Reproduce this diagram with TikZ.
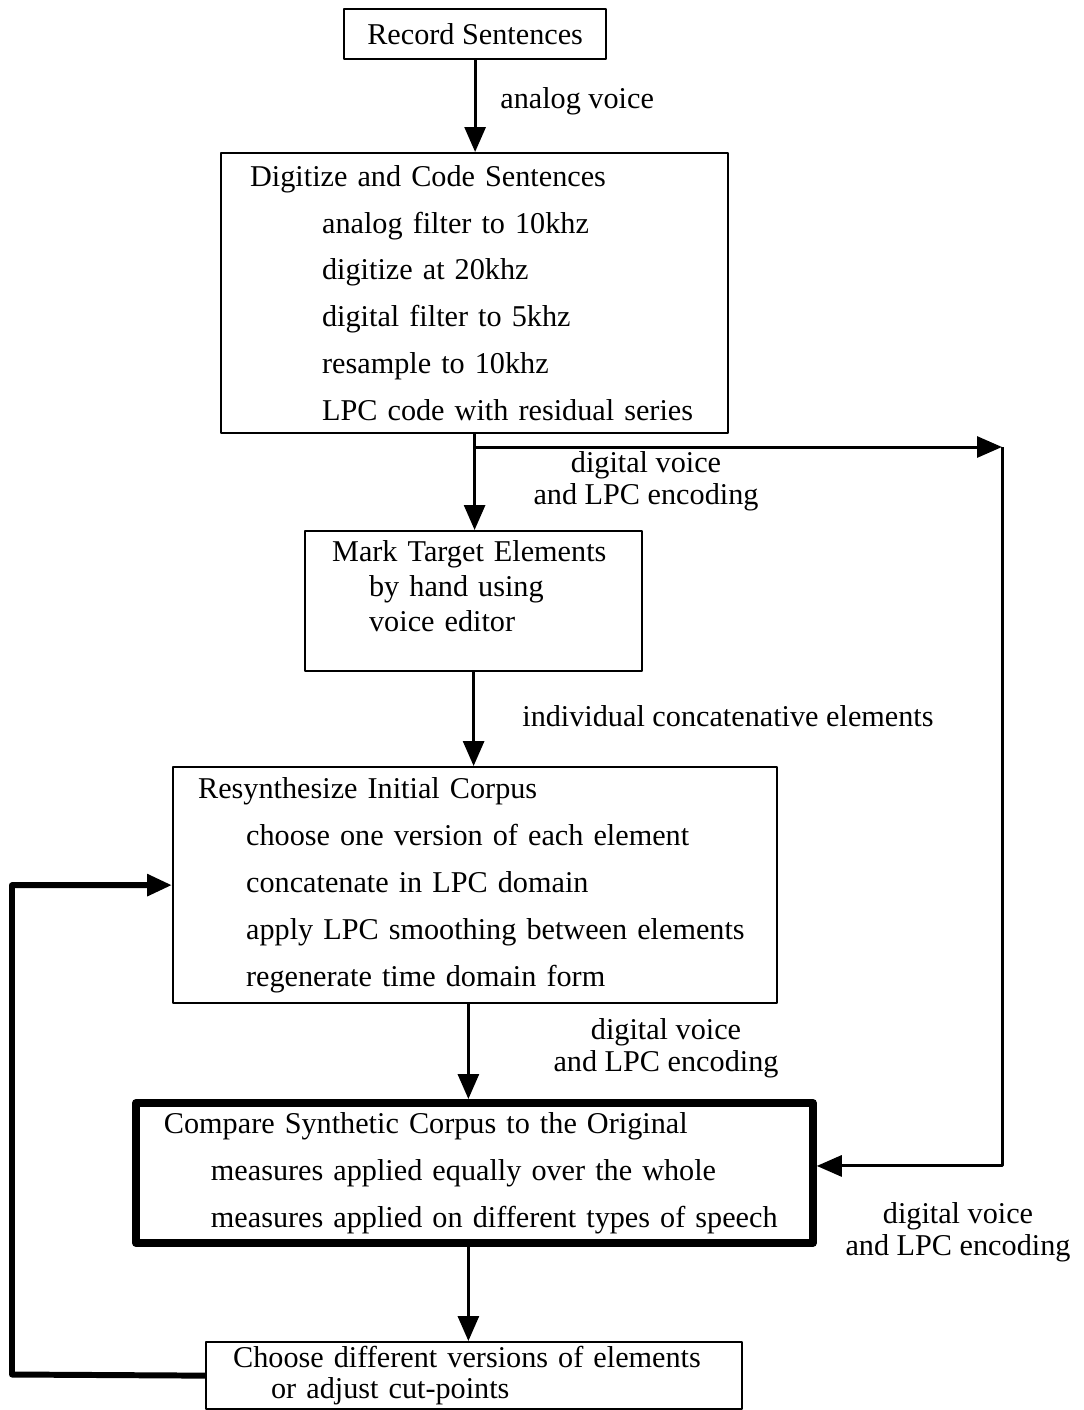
\documentclass[tikz,border=0pt]{standalone}
\usepackage{fontspec}
\setmainfont{Liberation Serif}
\usetikzlibrary{arrows.meta}
\newcommand\subline[2]{\mbox{\hspace*{#1}#2}}
\begin{document}
\begin{tikzpicture}[x=0.02cm,y=-0.02cm,line join=round,
    >={Triangle[length=0.5cm,width=0.42cm]},
    font=\fontsize{17.2}{26.7}\selectfont,
    stage/.style={draw,line width=1.3pt,anchor=north west,align=left,inner ysep=0pt},
    flow/.style={->,line width=1.7pt},
    note/.style={align=center,font=\fontsize{17.2}{18.2}\selectfont,inner sep=0pt}]
    \useasboundingbox (0,0) rectangle (1083,1410);
    \node[stage,align=center,minimum width=5.24cm,minimum height=1cm] (rec) at (343,8) {Record Sentences};
    \node[stage,inner xsep=0.58cm,text width=8.98cm,minimum height=5.6cm] (dig) at (220,152) {\mbox{Digitize and Code Sentences}\\
        \subline{1.44cm}{analog filter to 10khz}\\
        \subline{1.44cm}{digitize at 20khz}\\
        \subline{1.44cm}{digital filter to 5khz}\\
        \subline{1.44cm}{resample to 10khz}\\
        \subline{1.44cm}{LPC code with residual series}};
    \node[stage,inner xsep=0.54cm,text width=5.66cm,minimum height=2.8cm,font=\fontsize{17.2}{19.9}\selectfont] (mark) at (304,530) {\mbox{Mark Target Elements}\\
        \subline{0.74cm}{by hand using}\\
        \subline{0.74cm}{voice editor}\rule[-0.6cm]{0pt}{0pt}};
    \node[stage,inner xsep=0.5cm,text width=11.08cm,minimum height=4.72cm] (res) at (172,766) {\mbox{Resynthesize Initial Corpus}\\
        \subline{0.96cm}{choose one version of each element}\\
        \subline{0.96cm}{concatenate in LPC domain}\\
        \subline{0.96cm}{apply LPC smoothing between elements}\\
        \subline{0.96cm}{regenerate time domain form}};
    \node[stage,line width=4.5pt,inner xsep=0.56cm,text width=12.42cm,minimum height=2.8cm] (cmp) at (132,1099) {\mbox{Compare Synthetic Corpus to the Original}\\
        \subline{0.94cm}{measures applied equally over the whole}\\
        \subline{0.94cm}{measures applied on different types of speech}};
    \node[stage,inner xsep=0.54cm,text width=9.64cm,minimum height=1.34cm,font=\fontsize{17.2}{17.6}\selectfont] (choose) at (205,1341) {\mbox{Choose different versions of elements}\\
        \subline{0.76cm}{or adjust cut-points}};
    \coordinate (split) at (476,447);
    \coordinate (turn) at (1002,447);
    \draw[flow] (rec.south) -- (rec.south |- dig.north);
    \draw[flow] (dig.south) -- (dig.south |- mark.north);
    \draw[flow] (split) -- (turn);
    \draw[flow] (turn) |- ([yshift=0.14cm]cmp.east);
    \draw[flow] (mark.south) -- (mark.south |- res.north);
    \draw[flow] ([xshift=-0.12cm]cmp.north |- res.south) -- ([xshift=-0.12cm]cmp.north);
    \draw[flow] ([xshift=-0.12cm]cmp.south) -- ([xshift=-0.12cm]cmp.south |- choose.north);
    \draw[flow,line width=3.4pt] (choose.west) -- (12,1374.5) |- (res.west);
    \node[note,anchor=west] (l1) at (500,101) {analog voice};
    \node[note] (l2) at (646,481) {digital voice\\and LPC encoding};
    \node[note,anchor=west] (l3) at (522,716) {individual concatenative elements};
    \node[note] (l4) at (666,1048) {digital voice\\and LPC encoding};
    \node[note] (l5) at (958,1232) {digital voice\\and LPC encoding};
\end{tikzpicture}
\end{document}
